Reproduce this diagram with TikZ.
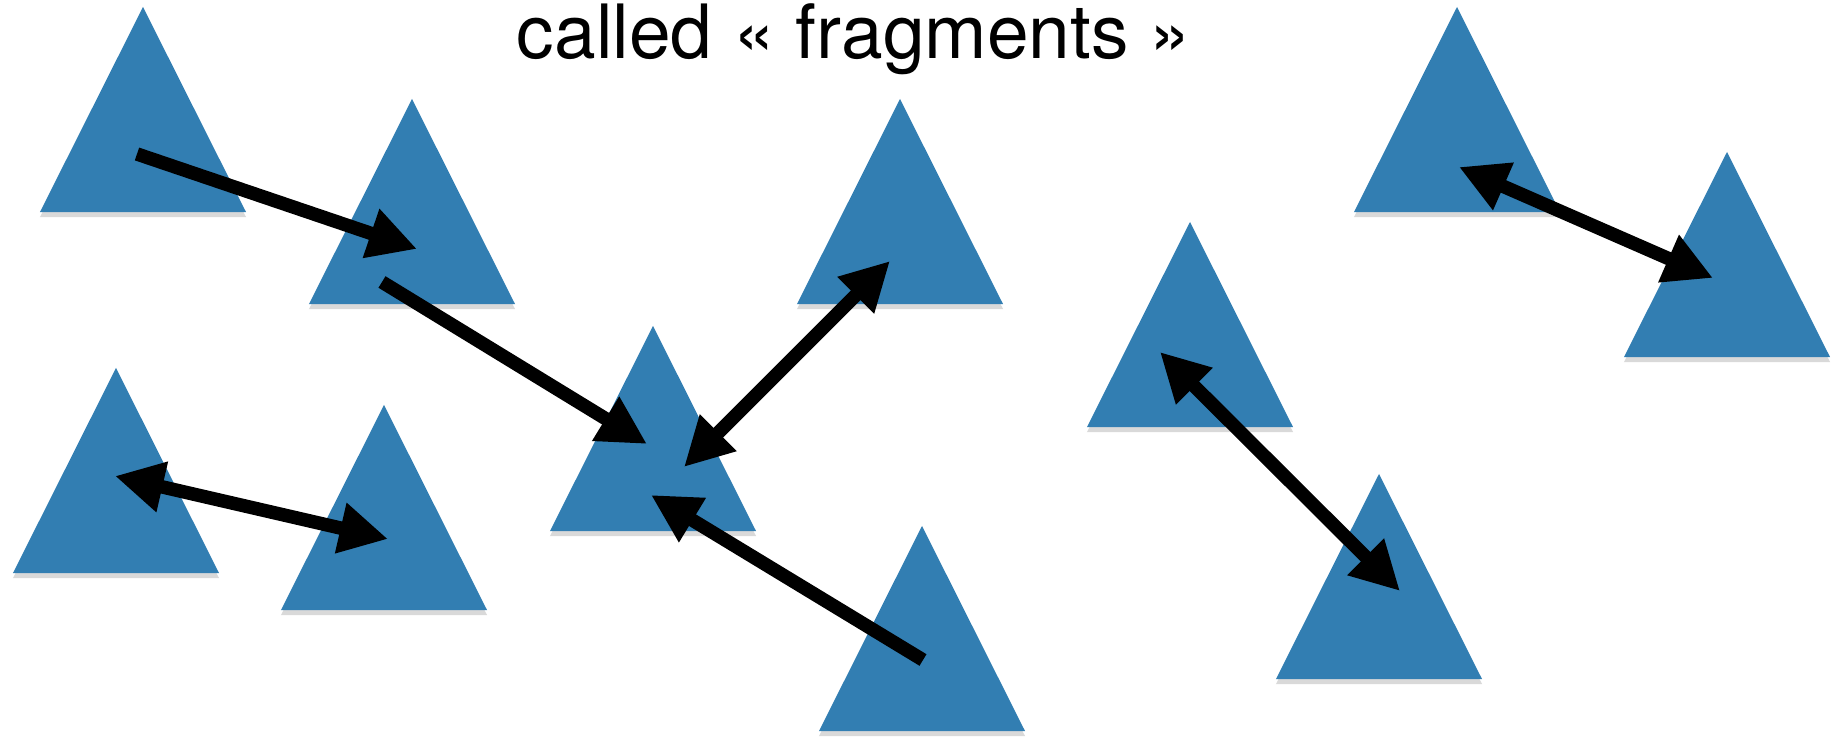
\documentclass[tikz,border=0pt]{standalone}
\usepackage{fontspec}
\setmainfont{TeX Gyre Heros}
\usetikzlibrary{arrows.meta,shapes.geometric,shadows}
\definecolor{fragBlue}{RGB}{50,126,178}
\tikzset{
  fragTri/.style={isosceles triangle, isosceles triangle stretches, shape border rotate=90, minimum width=2.06cm, minimum height=2.05cm, inner sep=0pt, outer sep=0pt, anchor=apex, fill=fragBlue, drop shadow={shadow xshift=0pt, shadow yshift=-0.05cm, opacity=0.3}},
  fragArrow/.style={-{Triangle[length=4.85mm, width=4.85mm]}, line width=1.35mm},
  fragBiArrow/.style={{Triangle[length=4.85mm, width=4.85mm]}-{Triangle[length=4.85mm, width=4.85mm]}, line width=1.35mm},
  fragLabel/.style={font=\fontsize{21.3pt}{25pt}\selectfont, inner sep=0pt, anchor=base}
}

\begin{document}
\begin{tikzpicture}[x=0.01cm, y=-0.01cm]
      \useasboundingbox (0,0) rectangle (1841,737);
      \node[fragLabel] (title) at (854,59) {called « fragments »};
      % fragments
      \node[fragTri] (f1) at (143,7) {};
      \node[fragTri] (f2) at (412,99) {};
      \node[fragTri] (f3) at (900,99) {};
      \node[fragTri] (f4) at (1457,7) {};
      \node[fragTri] (f5) at (1727,152) {};
      \node[fragTri] (f6) at (1190,222) {};
      \node[fragTri] (f7) at (653,326) {};
      \node[fragTri] (f8) at (116,368) {};
      \node[fragTri] (f9) at (384,405) {};
      \node[fragTri] (f10) at (922,526) {};
      \node[fragTri] (f11) at (1379,474) {};
      % arrow ends
      \coordinate (a1s) at (137,154);  \coordinate (a1e) at (417,249);
      \coordinate (a2s) at (382,282);  \coordinate (a2e) at (647,444);
      \coordinate (a3s) at (684,467);  \coordinate (a3e) at (890,261);
      \coordinate (a4s) at (923,660);  \coordinate (a4e) at (651,495);
      \coordinate (a5s) at (115,476);  \coordinate (a5e) at (388,539);
      \coordinate (a6s) at (1459,167); \coordinate (a6e) at (1713,278);
      \coordinate (a7s) at (1160,352); \coordinate (a7e) at (1400,591);
      \draw[fragArrow] (a1s) -- (a1e);
      \draw[fragArrow] (a2s) -- (a2e);
      \draw[fragBiArrow] (a3s) -- (a3e);
      \draw[fragArrow] (a4s) -- (a4e);
      \draw[fragBiArrow] (a5s) -- (a5e);
      \draw[fragBiArrow] (a6s) -- (a6e);
      \draw[fragBiArrow] (a7s) -- (a7e);
    \end{tikzpicture}
\end{document}
